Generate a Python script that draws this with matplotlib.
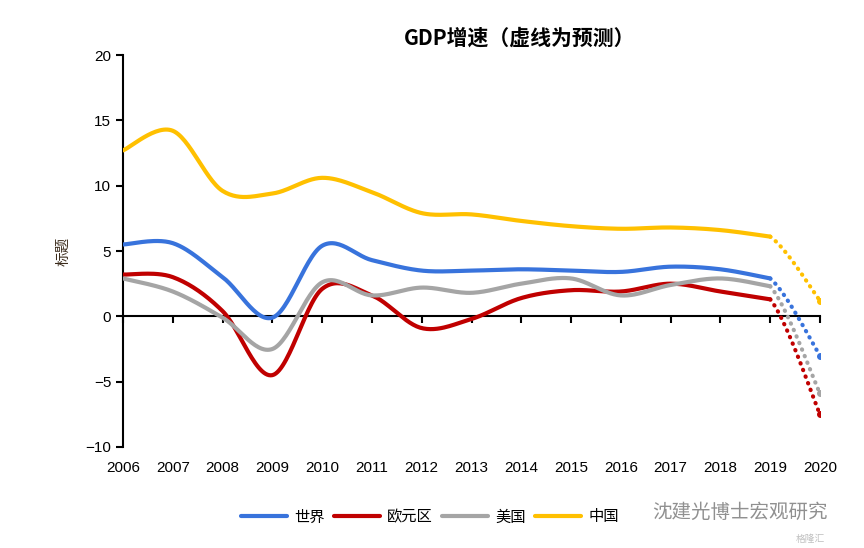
import numpy as np
import matplotlib.pyplot as plt

plt.rcParams['font.family'] = ['Noto Sans CJK SC', 'DejaVu Sans']

years = list(range(2006, 2021))
world = [5.5, 5.6, 3.0, -0.1, 5.4, 4.3, 3.5, 3.5, 3.6, 3.5, 3.4, 3.8, 3.6, 2.9, -3.0]
euro = [3.2, 3.0, 0.4, -4.5, 2.1, 1.6, -0.9, -0.2, 1.4, 2.0, 1.9, 2.5, 1.9, 1.3, -7.5]
usa = [2.9, 1.9, -0.1, -2.5, 2.6, 1.6, 2.2, 1.8, 2.5, 2.9, 1.6, 2.4, 2.9, 2.3, -5.9]
china = [12.7, 14.2, 9.6, 9.4, 10.6, 9.5, 7.9, 7.8, 7.3, 6.9, 6.7, 6.8, 6.6, 6.1, 1.2]
names = ['世界', '欧元区', '美国', '中国']
colors = ['#3873DC', '#C00000', '#A5A5A5', '#FFC000']


def smooth(x, y, n=30):
    # Excel-style smoothed line: cubic Bezier with Catmull-Rom control points
    x = np.asarray(x, float)
    y = np.asarray(y, float)
    px = np.concatenate([[x[0]], x, [x[-1]]])
    py = np.concatenate([[y[0]], y, [y[-1]]])
    xs, ys = [], []
    t = np.linspace(0, 1, n)
    for i in range(len(x) - 1):
        p0 = np.array([px[i + 1], py[i + 1]])
        p3 = np.array([px[i + 2], py[i + 2]])
        c1 = p0 + (p3 - np.array([px[i], py[i]])) / 6
        c2 = p3 - (np.array([px[i + 3], py[i + 3]]) - p0) / 6
        b = ((1 - t) ** 3)[:, None] * p0 + (3 * (1 - t) ** 2 * t)[:, None] * c1 \
            + (3 * (1 - t) * t ** 2)[:, None] * c2 + (t ** 3)[:, None] * p3
        xs.append(b[:, 0])
        ys.append(b[:, 1])
    return xs, ys


fig = plt.figure(figsize=(8.64, 5.48), dpi=100)
ax = fig.add_axes([123 / 864, 1 - 447 / 548, (820 - 123) / 864, (447 - 55) / 548])

for vals, name, c in zip([world, euro, usa, china], names, colors):
    # history (2006-2019) smoothed on its own, forecast segment from the full series
    hx, hy = smooth(years[:-1], vals[:-1])
    ax.plot(np.concatenate(hx), np.concatenate(hy), color=c, lw=3,
            solid_capstyle='round', label=name, zorder=3)
    fx, fy = smooth(years, vals)
    ax.plot(fx[-1], fy[-1], color=c, lw=3, linestyle=(0, (0.1, 1.6)),
            dash_capstyle='round', zorder=3)
    ax.plot(years[-1], vals[-1], 'o', color=c, ms=4, zorder=3)

ax.set_xlim(2006, 2020)
ax.set_ylim(-10, 20)
ax.set_yticks(range(-10, 21, 5))
ax.spines['top'].set_visible(False)
ax.spines['right'].set_visible(False)
ax.spines['bottom'].set_position(('data', 0))
ax.spines['left'].set_linewidth(1.5)
ax.spines['bottom'].set_linewidth(1.5)
ax.set_xticks(years)
ax.tick_params(axis='x', direction='out', length=5, width=1.5, labelbottom=False)
ax.tick_params(axis='y', direction='out', length=5, width=1.5, labelsize=11,
               labelfontfamily='Liberation Sans')

sec = ax.secondary_xaxis('bottom')
sec.set_xticks(years)
sec.set_xticklabels([str(y) for y in years], fontsize=11, family='Liberation Sans')
sec.spines['bottom'].set_visible(False)
sec.tick_params(length=0, pad=10)

ax.set_ylabel('标题', fontsize=10.5, color='#3a2a1a', labelpad=26)
ax.yaxis.set_label_coords(-0.075, 0.5)

fig.text(520 / 864, 1 - 38 / 548, 'GDP增速（虚线为预测）', fontsize=15,
         fontweight='bold', ha='center', va='center')

fig.legend(loc='center', bbox_to_anchor=(430 / 864, 1 - 517 / 548), ncol=4,
           frameon=False, fontsize=11, handlelength=3.0, columnspacing=0.6,
           handletextpad=0.5)

fig.text(652 / 864, 1 - 512 / 548, '沈建光博士宏观研究', fontsize=14, color='#909090',
         va='center', ha='left')
fig.text(796 / 864, 1 - 539 / 548, '格隆汇', fontsize=7, color='#c0c0c0',
         va='center', ha='left')

fig.savefig('out.png', dpi=100)
